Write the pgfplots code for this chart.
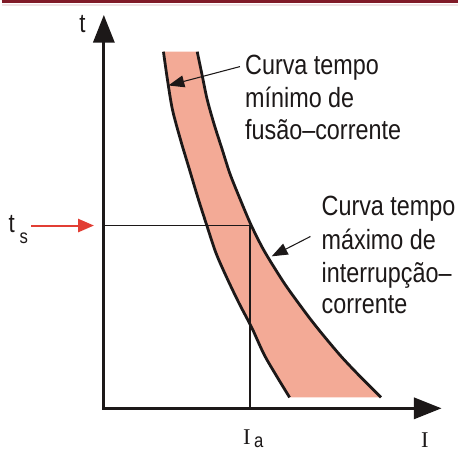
\documentclass[border=0pt]{standalone}
\usepackage{pgfplots}
\pgfplotsset{compat=1.18}
\usepackage{pgfplotstable}
\usepgfplotslibrary{fillbetween}
\usetikzlibrary{arrows.meta}
\usepackage{fontspec}
\setmainfont[FakeStretch=0.84]{Liberation Sans}
\newfontfamily\serifI{Liberation Serif}
\definecolor{band}{RGB}{243,170,150}
\definecolor{topred}{RGB}{128,26,40}
\definecolor{arrred}{RGB}{226,62,52}
\definecolor{ink}{RGB}{28,24,24}

% curve points, read in picture pixels (y grows downwards)
\pgfplotstableread{
x y
163 52
167 80
172 110
180 140
189 170
198 200
207 228
216 255
227 280
239 305
252 330
266 360
290 400
}\mincurve
\pgfplotstableread{
x y
197 52
202 76
207 100
214 125
222 150
230 175
240 200
251 226
263 250
275 270
288 290
310 320
326 340
343 360
362 380
382 400
}\maxcurve

\tikzset{lbl/.style={anchor=base west, inner sep=0pt, font=\fontsize{21}{25}\selectfont, text=ink}}

\begin{document}
\begin{tikzpicture}
\begin{axis}[at={(0,0)}, anchor=south west, scale only axis,
  width=345pt, height=339.75pt, xmin=0, xmax=460, ymin=0, ymax=453,
  y dir=reverse, hide axis, clip=false]
  % picture extent
  \addplot[draw=none] coordinates {(0,0) (460,453)};
  % frame line at the top
  \addplot[topred, line width=2.3pt] coordinates {(0,1.5) (460,1.5)};
  \addplot[topred!12, line width=1.2pt] coordinates {(0,5) (460,5)};
  % band between the two curves
  \addplot[draw=none, name path=L, smooth] table {\mincurve};
  \addplot[draw=none, name path=R, smooth] table {\maxcurve};
  \addplot[band] fill between[of=L and R];
  % t_s and I_a guide lines
  \addplot[ink, line width=1.1pt] coordinates {(103,227) (250,227) (250,411)};
  % curves
  \addplot[ink, line width=2.1pt, smooth] table {\mincurve};
  \addplot[ink, line width=2.1pt, smooth] table {\maxcurve};
  % axes
  \addplot[ink, line width=2.3pt, {Triangle[length=21pt,width=16pt]}-{Triangle[length=21pt,width=16pt]}]
    coordinates {(103,15) (103,411) (443,411)};
  % red arrow for t_s
  \addplot[arrred, line width=1.5pt, -{Triangle[length=12pt,width=10pt]}] coordinates {(30,227) (93,227)};
  % pointers to the curves
  \addplot[ink, line width=0.8pt, -{Triangle[length=12pt,width=9pt]}] coordinates {(240,67) (168,86)};
  \addplot[ink, line width=0.8pt, -{Triangle[length=12pt,width=9pt]}] coordinates {(311,238) (272,258)};
  % labels
  \node[lbl] at (axis cs:245,75) {Curva tempo};
  \node[lbl] at (axis cs:245,108) {mínimo de};
  \node[lbl] at (axis cs:245,140) {fusão–corrente};
  \node[lbl] at (axis cs:322,217) {Curva tempo};
  \node[lbl] at (axis cs:322,251) {máximo de};
  \node[lbl] at (axis cs:322,284) {interrupção–};
  \node[lbl] at (axis cs:322,316) {corrente};
  \node[lbl, font=\fontsize{20}{24}\selectfont] at (axis cs:78,33) {t};
  \node[lbl, font=\fontsize{20}{24}\selectfont] at (axis cs:7,234) {t};
  \node[lbl, font=\fontsize{15}{18}\selectfont] at (axis cs:18,245) {s};
  \node[lbl, font=\fontsize{17}{20}\selectfont\serifI] at (axis cs:243,447) {I};
  \node[lbl, font=\fontsize{15}{18}\selectfont] at (axis cs:254,450) {a};
  \node[lbl, font=\fontsize{17}{20}\selectfont\serifI] at (axis cs:422,450) {I};
\end{axis}
\end{tikzpicture}
\end{document}
